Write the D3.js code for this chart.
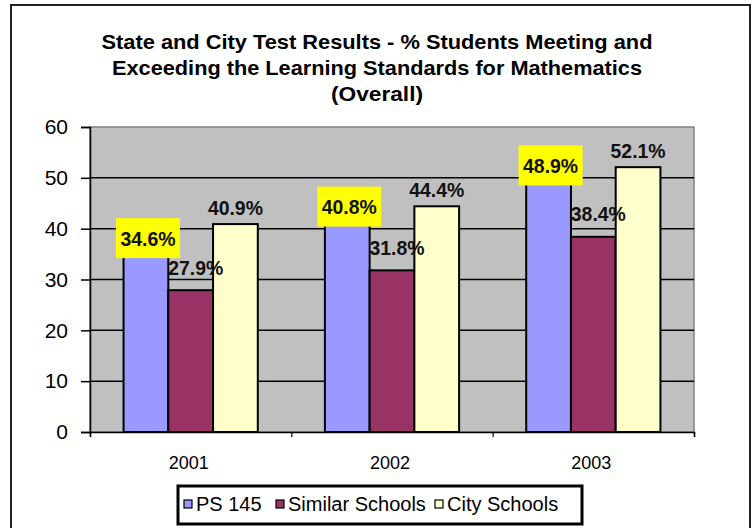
<!DOCTYPE html>
<html><head><meta charset="utf-8">
<script src="https://cdn.jsdelivr.net/npm/d3@7"></script>
<style>body{margin:0;background:#fff;}svg{display:block;font-family:Arial,"Liberation Sans",sans-serif;}</style>
</head><body>
<script>
const years = ["2001", "2002", "2003"];
const seriesNames = ["PS 145", "Similar Schools", "City Schools"];
const ps145 = [34.6, 40.8, 48.9];
const similar = [27.9, 31.8, 38.4];
const city = [40.9, 44.4, 52.1];
const yTicks = [0, 10, 20, 30, 40, 50, 60];
const titleLines = ["State and City Test Results - % Students Meeting and",
  "Exceeding the Learning Standards for Mathematics", "(Overall)"];
const colors = ["#9999ff", "#993366", "#ffffcc"];

const W = 752, H = 528;
const svg = d3.select("body").append("svg").attr("width", W).attr("height", H);

// outer frame
svg.append("rect").attr("x", 11).attr("y", 5).attr("width", 739).attr("height", 540)
  .attr("fill", "#fff").attr("stroke", "#222").attr("stroke-width", 2);

// title
const tl = [551, 530, 92];
titleLines.forEach((t, i) => {
  svg.append("text").attr("x", 377).attr("y", 49 + i * 26)
    .attr("text-anchor", "middle").attr("font-weight", "bold").attr("font-size", 21)
    .attr("fill", "#000").attr("textLength", tl[i]).attr("lengthAdjust", "spacingAndGlyphs").text(t);
});

const L = 90, R = 694, T = 127, B = 432;
const x0 = d3.scaleBand().domain(years).range([L, R]).paddingInner(0.3333).paddingOuter(0.1667);
const x1 = d3.scaleBand().domain(seriesNames).range([0, x0.bandwidth()]);
const y = d3.scaleLinear().domain([0, 60]).range([B, T]);

// plot background
svg.append("rect").attr("x", L).attr("y", T).attr("width", R - L).attr("height", B - T)
  .attr("fill", "#c0c0c0").attr("stroke", "#808080").attr("stroke-width", 1.5);

// gridlines
svg.append("g").selectAll("line").data(yTicks.filter(d => d > 0 && d < 60)).join("line")
  .attr("x1", L).attr("x2", R).attr("y1", d => y(d)).attr("y2", d => y(d))
  .attr("stroke", "#000").attr("stroke-width", 1.5);

// y axis
const yAxis = svg.append("g").attr("transform", `translate(${L},0)`)
  .call(d3.axisLeft(y).tickValues(yTicks).tickSize(9).tickPadding(13));
yAxis.select(".domain").attr("stroke", "#000").attr("stroke-width", 1.5);
yAxis.selectAll(".tick line").attr("stroke", "#000").attr("stroke-width", 1.5);
yAxis.selectAll("text").attr("font-size", 21).attr("fill", "#000").attr("font-family", "Arial,'Liberation Sans',sans-serif");

// x axis
const xBounds = d3.scaleLinear().domain([0, years.length]).range([L, R]);
const xAxis = svg.append("g").attr("transform", `translate(0,${B})`)
  .call(d3.axisBottom(xBounds).tickValues(d3.range(years.length + 1)).tickSize(5).tickFormat(""));
xAxis.select(".domain").attr("stroke", "#000").attr("stroke-width", 1.5);
xAxis.selectAll(".tick line").attr("stroke", "#000").attr("stroke-width", 1.2);
svg.append("g").selectAll("text").data(years).join("text")
  .attr("x", d => x0(d) + x0.bandwidth() / 2 - 2).attr("y", 469)
  .attr("text-anchor", "middle").attr("font-size", 18).attr("fill", "#000").text(d => d);

// bars
const seriesData = [ps145, similar, city];
const rows = [];
seriesData.forEach((arr, si) => arr.forEach((v, yi) => rows.push({ s: seriesNames[si], si, year: years[yi], v })));
svg.append("g").selectAll("rect").data(rows).join("rect")
  .attr("x", d => x0(d.year) + x1(d.s)).attr("width", x1.bandwidth())
  .attr("y", d => y(d.v)).attr("height", d => B - y(d.v))
  .attr("fill", d => colors[d.si]).attr("stroke", "#000").attr("stroke-width", 2);

// labels
const labelOffset = [18, 23, 17];
const labelDx = [2, 5, 0];
const lg = svg.append("g");
rows.forEach(d => {
  const cx = x0(d.year) + x1(d.s) + x1.bandwidth() / 2 + labelDx[d.si];
  const cy = y(d.v) - labelOffset[d.si];
  if (d.si === 0) {
    lg.append("rect").attr("x", cx - 32).attr("y", cy - 20).attr("width", 64).attr("height", 40)
      .attr("fill", "#ffff00");
  }
  lg.append("text").attr("x", cx).attr("y", cy).attr("dy", "0.36em")
    .attr("text-anchor", "middle").attr("font-weight", "bold").attr("font-size", 21)
    .attr("textLength", 55).attr("lengthAdjust", "spacingAndGlyphs")
    .attr("fill", "#111").text(d.v.toFixed(1) + "%");
});

// legend
const leg = svg.append("g");
leg.append("rect").attr("x", 178).attr("y", 486).attr("width", 404).attr("height", 38)
  .attr("fill", "#fff").attr("stroke", "#000").attr("stroke-width", 3);
const legX = [184, 276, 435];
seriesNames.forEach((n, i) => {
  leg.append("rect").attr("x", legX[i]).attr("y", 500).attr("width", 8).attr("height", 8)
    .attr("fill", colors[i]).attr("stroke", "#000").attr("stroke-width", 1.2);
  leg.append("text").attr("x", legX[i] + 12).attr("y", 511).attr("font-size", 20)
    .attr("fill", "#000").text(n);
});
</script>
</body></html>
